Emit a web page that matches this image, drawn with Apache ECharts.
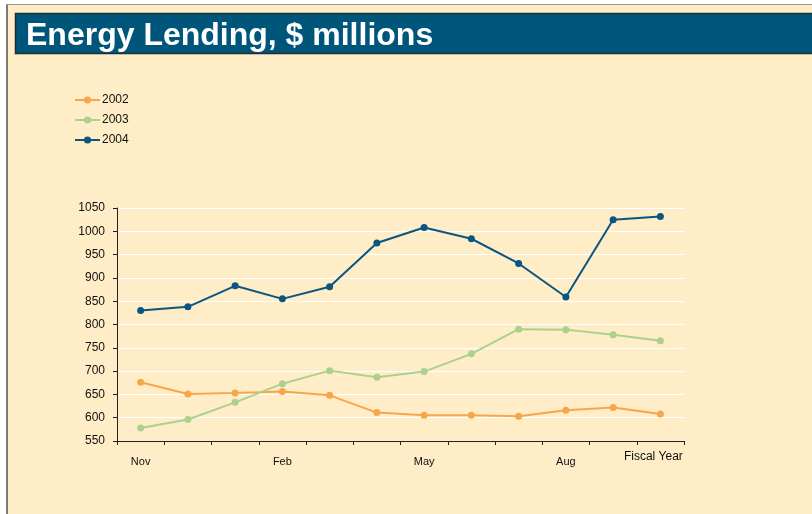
<!DOCTYPE html>
<html>
<head>
<meta charset="utf-8">
<script src="https://cdn.jsdelivr.net/npm/echarts@6/dist/echarts.min.js"></script>
<style>
  html, body { margin: 0; padding: 0; background: #ffffff; }
  #chart { width: 812px; height: 514px; }
</style>
</head>
<body>
<div id="chart"></div>
<script>
// Months of the fiscal year plus the fiscal-year total
const categories = ['Nov', 'Dec', 'Jan', 'Feb', 'Mar', 'Apr', 'May', 'Jun', 'Jul', 'Aug', 'Sep', 'Fiscal Year'];
const shownLabels = ['Nov', 'Feb', 'May', 'Aug', 'Fiscal Year'];

const seriesNames = ['2002', '2003', '2004'];
const values2002 = [676, 651, 653, 656, 648, 611, 605, 605, 603, 616, 622, 608];
const values2003 = [578, 596, 633, 673, 701, 687, 699, 737, 790, 789, 778, 765];
const values2004 = [830, 838, 883, 855, 881, 975, 1008, 984, 931, 859, 1025, 1032];

const colors = ['#F8A64C', '#ABD18D', '#0B5680'];
const cream = '#FEEDC6';
const font = '"Liberation Sans", Arial, sans-serif';

const chart = echarts.init(document.getElementById('chart'), null, { renderer: 'canvas' });

function lineSeries(name, data, color) {
  return {
    name: name,
    type: 'line',
    data: data,
    symbol: 'circle',
    symbolSize: 7,
    lineStyle: { color: color, width: 2 },
    itemStyle: { color: color },
    emphasis: { disabled: true },
    animation: false
  };
}

chart.setOption({
  animation: false,
  textStyle: { fontFamily: font },
  graphic: [
    // page background and frame
    { type: 'rect', z: -10, shape: { x: 6, y: 4, width: 806, height: 510 },
      style: { fill: cream } },
    { type: 'line', z: -5, shape: { x1: 7, y1: 4, x2: 7, y2: 514 },
      style: { stroke: '#7d7a72', lineWidth: 2 } },
    { type: 'line', z: -5, shape: { x1: 6, y1: 4.5, x2: 812, y2: 4.5 },
      style: { stroke: '#9a978f', lineWidth: 1 } },
    // heading bar
    { type: 'rect', z: -4, shape: { x: 15.5, y: 13.5, width: 800, height: 40 },
      style: { fill: '#00557B', stroke: '#1d2c36', lineWidth: 1.5 } },
    { type: 'text', z: 10, left: 26, top: 20,
      style: { text: 'Energy Lending, $ millions', fill: '#ffffff',
               font: 'bold 32px ' + font } }
  ],
  legend: {
    orient: 'vertical',
    left: 74,
    top: 94,
    padding: 0,
    itemWidth: 25,
    itemHeight: 9,
    itemGap: 8,
    data: seriesNames,
    textStyle: { fontFamily: font, fontSize: 12, color: '#111111', padding: [0, 0, 0, -3] }
  },
  grid: { left: 117, right: 128, top: 208, bottom: 73, containLabel: false },
  xAxis: {
    type: 'category',
    data: categories,
    boundaryGap: true,
    axisLine: { lineStyle: { color: '#222222', width: 1 } },
    axisTick: { show: true, length: 4, interval: 0, lineStyle: { color: '#222222' } },
    axisLabel: {
      interval: 0,
      color: '#111111',
      fontFamily: font,
      fontSize: 11,
      margin: 15,
      formatter: function (v) {
        if (v === 'Fiscal Year') return '{fy|' + v + '}';
        return shownLabels.indexOf(v) >= 0 ? v : '';
      },
      rich: {
        // the total's label sits a little higher than the month labels
        fy: { fontFamily: font, fontSize: 12, color: '#111111', lineHeight: 2, padding: [0, 14, 0, 0] }
      }
    },
    splitLine: { show: false }
  },
  yAxis: {
    type: 'value',
    min: 550,
    max: 1050,
    interval: 50,
    axisLine: { show: true, lineStyle: { color: '#222222', width: 1 } },
    axisTick: { show: true, length: 4, lineStyle: { color: '#222222' } },
    axisLabel: {
      color: '#111111', fontFamily: font, fontSize: 12, margin: 12,
      formatter: function (v) { return String(v); }
    },
    splitLine: { show: true, lineStyle: { color: '#ffffff', width: 1 } }
  },
  series: [
    lineSeries(seriesNames[0], values2002, colors[0]),
    lineSeries(seriesNames[1], values2003, colors[1]),
    lineSeries(seriesNames[2], values2004, colors[2])
  ]
});
</script>
</body>
</html>
